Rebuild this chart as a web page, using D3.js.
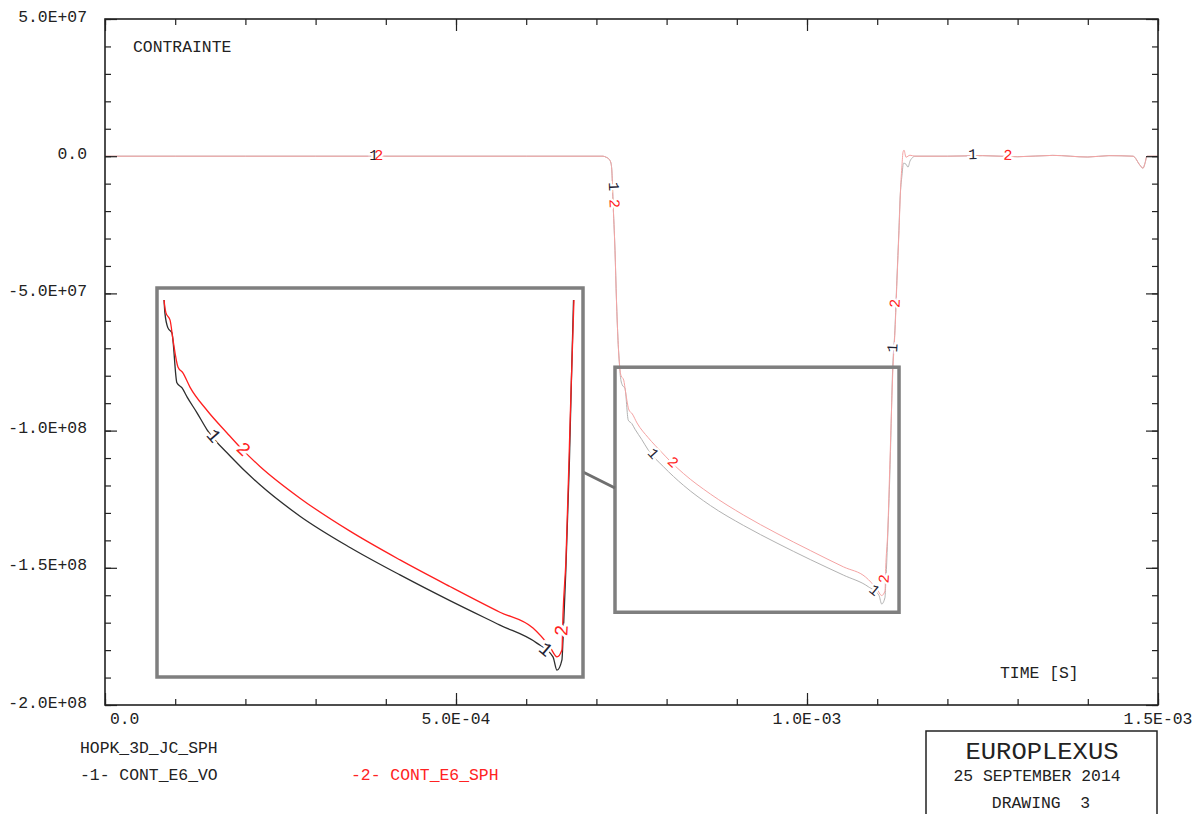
<!DOCTYPE html>
<html>
<head>
<meta charset="utf-8">
<script src="https://cdn.jsdelivr.net/npm/d3@7"></script>
<style>
  html, body { margin: 0; padding: 0; background: #fff; }
  svg { display: block; }
  text { font-family: "Liberation Mono", "Courier New", monospace; }
</style>
</head>
<body>
<svg id="chart" width="1199" height="814"></svg>
<script>
// Time in microseconds, stress in MPa (converted to s / Pa when plotted)
const timeVO = [0, 100, 200, 300, 400, 500, 600, 709.4, 713.7, 718, 720.8, 722.2, 723.6, 726.5, 728.6, 730.8, 733.2,
  734.0, 736.9, 740.7, 745.4, 750.3, 755.0, 764.5, 773.9, 795.7, 824.3, 862.3, 909.8, 957.3, 1004.7, 1052.2,
  1087.3, 1102.6, 1106.4, 1111.1, 1112.1, 1114.8, 1118.2, 1122.1, 1125.2, 1128.0, 1130.9, 1132.5, 1135.3, 1137.5,
  1141.0, 1143.9, 1146.7, 1149.6, 1153.8, 1200, 1250, 1300, 1350, 1400, 1430, 1464.4, 1474.4, 1478.6, 1481.5, 1484.3, 1500];
const stressVO = [0, 0, 0, 0, 0, 0, 0, 0, -0.36, -1.1, -2.55, -6.2, -16.0, -34.3, -52.5, -67.1, -76.9,
  -79.9, -83.4, -84.6, -96.2, -97.4, -99.5, -103.2, -107.1, -113.2, -120.0, -127.3, -134.6, -141.0, -147.0, -152.7,
  -156.9, -160.1, -163.2, -160.8, -156.2, -139.9, -114.4, -76.9, -63.4, -45.2, -27.0, -16.0, -6.9, -2.55,
  -2.9, -4.0, -1.8, -0.7, 0, 0, 0.2, -0.2, 0.3, -0.3, 0.2, 0, -3.3, -4.4, -2.55, 0, 0];

const timeSPH = [0, 100, 200, 300, 400, 500, 600, 709.4, 713.7, 718, 720.8, 722.2, 723.6, 726.5, 728.6, 730.8, 733.2,
  735.0, 738.9, 741.7, 746.4, 751.1, 757.8, 773.9, 793.0, 805.3, 824.3, 862.3, 909.8, 957.3, 1004.7, 1052.2,
  1083.6, 1099.7, 1106.4, 1111.1, 1112.1, 1114.9, 1118.2, 1122.5, 1125.4, 1128.2, 1131.1, 1133.2, 1135.3, 1136.8,
  1138.2, 1141.0, 1146.7, 1153.8, 1200, 1250, 1300, 1350, 1400, 1430, 1464.4, 1474.4, 1478.6, 1481.5, 1484.3, 1500];
const stressSPH = [0, 0, 0, 0, 0, 0, 0, 0, -0.36, -1.1, -2.55, -6.2, -16.0, -34.3, -52.5, -67.1, -76.9,
  -79.9, -81.6, -86.2, -92.5, -93.9, -97.2, -102.6, -107.9, -111.2, -115.7, -123.1, -130.8, -137.5, -143.7, -149.7,
  -153.4, -157.8, -160.1, -158.5, -150.3, -137.5, -110.8, -76.9, -63.4, -45.2, -27.0, -12.4, -3.3, 1.5,
  2.2, -0.36, 0.36, 0, 0, 0.2, -0.2, 0.3, -0.3, 0.2, 0, -3.3, -4.4, -2.55, 0, 0];

// Curve number markers, placed at these times along each curve
const markTimesVO = [383, 722.9, 779.6, 1095, 1123.7, 1236];
const markTimesSPH = [390, 723.8, 808, 1111.65, 1126.9, 1286];

// Axis tick values
const xTickLabels = [0, 5e-4, 1e-3, 1.5e-3];
const yTickLabels = [5e7, 0, -5e7, -1e8, -1.5e8, -2e8];

// Zoom window (µs, MPa) and the stress span shown in the enlarged view
const zoomTime = [726.5, 1131.1];
const zoomStress = [-76.9, -166.2];
const insetStress = [-76.9, -164.8];

const svg = d3.select("#chart");
const plot = { left: 105, right: 1158, top: 19, bottom: 705 };
const fontSize = 16.4;
const charW = fontSize * 0.6;
const ink = "#222";

const x = d3.scaleLinear().domain([0, 1.5e-3]).range([plot.left, plot.right]);
const y = d3.scaleLinear().domain([-2e8, 5e7]).range([plot.bottom, plot.top]);

const toSeries = (ts, vs) => ts.map((t, i) => ({ t: t * 1e-6, v: vs[i] * 1e6 }));
const seriesVO = toSeries(timeVO, stressVO);
const seriesSPH = toSeries(timeSPH, stressSPH);

function fmtE(v) {
  if (v === 0) return "0.0";
  const e = Math.floor(Math.log10(Math.abs(v)) + 1e-9);
  const m = v / Math.pow(10, e);
  return m.toFixed(1) + "E" + (e < 0 ? "-" : "+") + String(Math.abs(e)).padStart(2, "0");
}

// ---- frame and ticks ----
const minorX = d3.range(0, 16).map(i => +(i * 1e-4).toFixed(6));
const minorY = d3.range(-20, 6).map(i => i * 1e7);
const majorY = yTickLabels;

function tickGroup(axis, tx, ty) {
  svg.append("g")
    .attr("transform", `translate(${tx},${ty})`)
    .call(axis)
    .call(g => g.select(".domain").remove())
    .call(g => g.selectAll("line").attr("stroke", ink).attr("stroke-width", 1.2));
}

// ---- main curves ----
const lineMain = d3.line().curve(d3.curveMonotoneX).x(d => x(d.t)).y(d => y(d.v));
svg.append("path").datum(seriesVO).attr("d", lineMain)
  .attr("fill", "none").attr("stroke", "#b2b2b2").attr("stroke-width", 1);
svg.append("path").datum(seriesSPH).attr("d", lineMain)
  .attr("fill", "none").attr("stroke", "#f5a3a3").attr("stroke-width", 1);

tickGroup(d3.axisBottom(x).tickValues(minorX).tickSize(-6).tickFormat(""), 0, plot.bottom);
tickGroup(d3.axisBottom(x).tickValues(xTickLabels).tickSize(-12).tickFormat(""), 0, plot.bottom);
tickGroup(d3.axisTop(x).tickValues(minorX).tickSize(-6).tickFormat(""), 0, plot.top);
tickGroup(d3.axisTop(x).tickValues(xTickLabels).tickSize(-12).tickFormat(""), 0, plot.top);
tickGroup(d3.axisLeft(y).tickValues(minorY).tickSize(-6).tickFormat(""), plot.left, 0);
tickGroup(d3.axisLeft(y).tickValues(majorY).tickSize(-12).tickFormat(""), plot.left, 0);
tickGroup(d3.axisRight(y).tickValues(minorY).tickSize(-6).tickFormat(""), plot.right, 0);
tickGroup(d3.axisRight(y).tickValues(majorY).tickSize(-12).tickFormat(""), plot.right, 0);

svg.append("rect")
  .attr("x", plot.left).attr("y", plot.top)
  .attr("width", plot.right - plot.left).attr("height", plot.bottom - plot.top)
  .attr("fill", "none").attr("stroke", ink).attr("stroke-width", 1.6);

// tick labels
svg.append("g").selectAll("text").data(yTickLabels).join("text")
  .attr("x", 87).attr("y", d => y(d) + 2.5)
  .attr("text-anchor", "end").attr("font-size", fontSize).attr("fill", ink)
  .text(fmtE);
svg.append("g").selectAll("text").data(xTickLabels).join("text")
  .attr("x", d => x(d) + 3.5 * charW).attr("y", 723.5)
  .attr("text-anchor", "end").attr("font-size", fontSize).attr("fill", ink)
  .text(fmtE);

svg.append("text").attr("x", 133).attr("y", 51.5).attr("font-size", fontSize).attr("fill", ink).text("CONTRAINTE");
svg.append("text").attr("x", 1000).attr("y", 677.5).attr("font-size", fontSize).attr("fill", ink).text("TIME [S]");

// ---- zoom window and enlarged view ----
const zx0 = x(zoomTime[0] * 1e-6), zx1 = x(zoomTime[1] * 1e-6);
const zy0 = y(zoomStress[0] * 1e6), zy1 = y(zoomStress[1] * 1e6);
const big = { left: 157, right: 583, top: 288, bottom: 677 };
const boxStroke = "#7f7f7f";

svg.append("rect").attr("x", zx0).attr("y", zy0).attr("width", zx1 - zx0).attr("height", zy1 - zy0)
  .attr("fill", "none").attr("stroke", boxStroke).attr("stroke-width", 3.5);
svg.append("line").attr("x1", big.right).attr("y1", 472).attr("x2", zx0).attr("y2", 488)
  .attr("stroke", "#6f6f6f").attr("stroke-width", 3);
svg.append("rect").attr("x", big.left).attr("y", big.top)
  .attr("width", big.right - big.left).attr("height", big.bottom - big.top)
  .attr("fill", "#fff").attr("stroke", boxStroke).attr("stroke-width", 3.5);

const xi = d3.scaleLinear().domain(zoomTime.map(t => t * 1e-6)).range([big.left, big.right]);
const yi = d3.scaleLinear().domain(insetStress.map(v => v * 1e6)).range([300, big.bottom]);

svg.append("clipPath").attr("id", "insetClip")
  .append("rect").attr("x", big.left).attr("y", 300)
  .attr("width", big.right - big.left).attr("height", big.bottom - 300);

const lineInset = d3.line().curve(d3.curveMonotoneX).x(d => xi(d.t)).y(d => yi(d.v));
const inset = svg.append("g").attr("clip-path", "url(#insetClip)");
inset.append("path").datum(seriesVO).attr("d", lineInset)
  .attr("fill", "none").attr("stroke", "#2e2e2e").attr("stroke-width", 1.3);
inset.append("path").datum(seriesSPH).attr("d", lineInset)
  .attr("fill", "none").attr("stroke", "#ff1f1f").attr("stroke-width", 1.3);

// ---- curve number markers ----
function valueAt(series, t) {
  const i = d3.bisector(d => d.t).right(series, t);
  const a = series[Math.max(0, i - 1)], b = series[Math.min(series.length - 1, i)];
  if (b.t === a.t) return a.v;
  return a.v + (b.v - a.v) * (t - a.t) / (b.t - a.t);
}

function markers(series, times, label, color, sx, sy, inside, size) {
  return times.map(tu => {
    const t = tu * 1e-6, dt = 1.5e-6;
    const px = sx(t), py = sy(valueAt(series, t));
    const ax = sx(t - dt), ay = sy(valueAt(series, t - dt));
    const bx = sx(t + dt), by = sy(valueAt(series, t + dt));
    const ang = Math.atan2(by - ay, bx - ax) * 180 / Math.PI;
    return { px, py, ang, label, color, size, ok: inside(px, py) };
  }).filter(d => d.ok);
}

const inMain = () => true;
const inInset = (px, py) => px > big.left && px < big.right && py > 300 && py < big.bottom;
const marks = [].concat(
  markers(seriesVO, markTimesVO, "1", "#1f2333", x, y, inMain, 15),
  markers(seriesSPH, markTimesSPH, "2", "#ff2222", x, y, inMain, 15),
  markers(seriesVO, markTimesVO, "1", "#1f2333", xi, yi, inInset, 19),
  markers(seriesSPH, markTimesSPH, "2", "#ff2222", xi, yi, inInset, 19)
);

const markHalo = svg.append("g");
const markText = svg.append("g");
[markHalo, markText].forEach((g, k) => {
  g.selectAll("text").data(marks).join("text")
    .attr("transform", d => `translate(${d.px},${d.py}) rotate(${d.ang})`)
    .attr("text-anchor", "middle").attr("dominant-baseline", "central")
    .attr("font-size", d => d.size)
    .attr("fill", d => k === 0 ? "#fff" : d.color)
    .attr("stroke", k === 0 ? "#fff" : "none")
    .attr("stroke-width", d => k === 0 ? d.size / 3.5 : 0)
    .text(d => d.label);
});

// ---- captions ----
svg.append("text").attr("x", 80).attr("y", 752.5).attr("font-size", fontSize).attr("fill", ink).text("HOPK_3D_JC_SPH");
svg.append("text").attr("x", 80).attr("y", 779.5).attr("font-size", fontSize).attr("fill", ink).text("-1- CONT_E6_VO");
svg.append("text").attr("x", 351).attr("y", 779.5).attr("font-size", fontSize).attr("fill", "#ff2222").text("-2- CONT_E6_SPH");

svg.append("rect").attr("x", 926).attr("y", 731).attr("width", 231).attr("height", 120)
  .attr("fill", "none").attr("stroke", ink).attr("stroke-width", 1.5);
svg.append("text").attr("x", 1042).attr("y", 759).attr("text-anchor", "middle")
  .attr("font-family", "'Liberation Serif', serif").attr("font-size", 24.5)
  .attr("textLength", 153).attr("lengthAdjust", "spacingAndGlyphs")
  .attr("fill", ink).text("EUROPLEXUS");
svg.append("text").attr("x", 1037).attr("y", 780.5).attr("text-anchor", "middle")
  .attr("font-size", fontSize).attr("fill", ink).text("25 SEPTEMBER 2014");
svg.append("text").attr("x", 1041).attr("y", 807.5).attr("text-anchor", "middle")
  .attr("font-size", fontSize).attr("fill", ink).style("white-space", "pre").text("DRAWING  3");
</script>
</body>
</html>
